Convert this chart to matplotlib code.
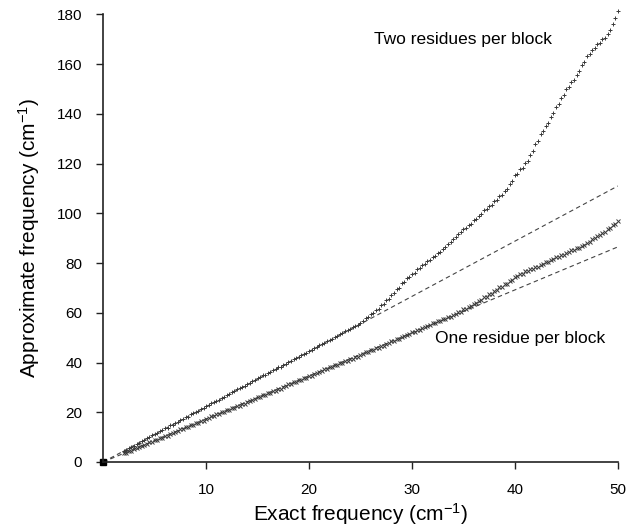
import numpy as np
import matplotlib
matplotlib.use('Agg')
from matplotlib import pyplot as plt

plt.rcParams['font.family'] = ['Liberation Sans', 'DejaVu Sans']
plt.rcParams['mathtext.fontset'] = 'custom'
plt.rcParams['mathtext.rm'] = 'Liberation Sans'
plt.rcParams['mathtext.it'] = 'Liberation Sans'

# exact frequencies (cm-1), one point every 0.25 from 2 to 50
x_exact = np.arange(2.0, 50.01, 0.25)

# two residues per block, approximate frequencies
two_res = [
    4.6, 4.9, 5.7, 6.0, 6.5, 7.4, 7.7, 8.5, 8.8, 9.6, 9.9, 10.7,
    11.3, 11.5, 12.4, 12.7, 13.6, 13.8, 14.7, 14.9, 15.8, 16.0,
    16.9, 17.1, 18.0, 18.2, 19.2, 19.5, 20.3, 20.6, 21.4, 21.8,
    22.5, 22.9, 23.6, 24.0, 24.7, 25.1, 25.8, 26.3, 26.9, 27.3,
    28.1, 28.4, 29.2, 29.6, 30.3, 30.6, 31.4, 31.8, 32.5, 32.9,
    33.6, 34.0, 34.8, 35.1, 35.8, 36.3, 36.8, 37.5, 38.0, 38.4,
    39.2, 39.6, 40.3, 40.6, 41.4, 41.8, 42.4, 42.9, 43.6, 44.0,
    44.6, 45.1, 45.8, 46.2, 46.9, 47.3, 48.0, 48.5, 49.1, 49.5,
    50.3, 50.7, 51.4, 51.8, 52.5, 53.0, 53.6, 54.1, 54.7, 55.2,
    56.0, 56.5, 57.9, 58.4, 59.6, 60.1, 61.3, 61.7, 63.1, 63.6,
    65.1, 65.7, 67.3, 67.8, 69.6, 70.1, 71.8, 72.3, 73.8, 74.3,
    75.8, 76.2, 77.6, 77.9, 79.3, 79.6, 80.9, 81.2, 82.5, 82.8,
    84.1, 84.5, 85.8, 86.3, 87.8, 88.3, 89.8, 90.3, 91.8, 92.3,
    93.8, 94.2, 95.5, 95.9, 97.3, 97.7, 99.1, 99.6, 101.3, 101.7,
    103.1, 103.4, 104.8, 105.3, 106.8, 107.3, 108.8, 109.8, 111.8, 113.0,
    115.3, 116.0, 117.8, 118.4, 120.3, 121.2, 123.3, 125.0, 127.8, 129.2,
    131.8, 133.0, 135.3, 136.4, 138.8, 140.2, 142.8, 144.0, 146.3, 147.6,
    150.0, 150.9, 152.9, 153.7, 155.8, 157.1, 159.5, 160.8, 163.3, 163.9,
    165.8, 166.5, 168.3, 168.7, 170.3, 170.7, 172.3, 173.7, 176.3, 178.7,
    181.5,
]

# one residue per block, approximate frequencies
one_res = [
    3.6, 3.8, 4.5, 4.6, 5.3, 5.5, 6.2, 6.3, 7.0, 7.2, 7.9, 8.0,
    8.7, 8.9, 9.7, 9.8, 10.5, 10.6, 11.4, 11.5, 12.2, 12.3,
    13.1, 13.2, 14.0, 14.1, 14.8, 14.9, 15.7, 15.8, 16.5, 16.6,
    17.4, 17.5, 18.3, 18.4, 19.1, 19.2, 20.0, 20.1, 20.8, 20.9,
    21.7, 21.8, 22.6, 22.7, 23.4, 23.5, 24.3, 24.4, 25.1, 25.2,
    26.0, 26.1, 26.9, 27.0, 27.7, 27.8, 28.6, 28.7, 29.4, 29.5,
    30.3, 30.4, 31.2, 31.3, 32.0, 32.1, 32.9, 33.0, 33.7, 33.8,
    34.6, 34.7, 35.5, 35.6, 36.3, 36.4, 37.2, 37.3, 38.0, 38.1,
    38.9, 39.0, 39.8, 39.9, 40.6, 40.7, 41.5, 41.6, 42.3, 42.4,
    43.2, 43.3, 44.1, 44.2, 44.9, 45.0, 45.8, 45.9, 46.7, 46.8,
    47.6, 47.7, 48.5, 48.7, 49.4, 49.6, 50.3, 50.5, 51.1, 51.3,
    52.2, 52.3, 53.1, 53.2, 54.0, 54.1, 54.8, 55.0, 55.7, 55.8,
    56.6, 56.7, 57.4, 57.6, 58.3, 58.5, 59.2, 59.4, 60.2, 60.4,
    61.4, 61.5, 62.4, 62.6, 63.6, 63.8, 64.8, 65.1, 66.2, 66.4,
    67.4, 67.6, 68.7, 69.0, 70.2, 70.4, 71.4, 71.6, 72.7, 73.1,
    74.4, 74.6, 75.7, 75.8, 76.7, 76.7, 77.6, 77.6, 78.4, 78.5,
    79.4, 79.5, 80.4, 80.5, 81.4, 81.5, 82.4, 82.4, 83.2, 83.3,
    84.2, 84.3, 85.1, 85.2, 86.0, 86.1, 86.9, 87.2, 88.2, 88.6,
    89.6, 90.0, 91.0, 91.4, 92.2, 92.4, 93.7, 94.2, 95.2, 95.9,
    96.8,
]

# dashed reference lines from the origin: value reached at x = 50
ref_x = [0, 50]
ref_upper = [0, 111]
ref_lower = [0, 86.5]

x_ticks = [10, 20, 30, 40, 50]
y_ticks = list(range(0, 181, 20))

fig = plt.figure(figsize=(6.33, 5.29), dpi=100)
ax = fig.add_axes([0.163, 0.1267, 0.813, 0.846])

ax.plot(ref_x, ref_upper, ls=(0, (4, 3)), color='#444444', lw=0.8)
ax.plot(ref_x, ref_lower, ls=(0, (4, 3)), color='#444444', lw=0.8)

ax.plot(x_exact, two_res, '+', color='#3a3a3a', ms=3.5, mew=0.7, clip_on=False)
ax.plot(x_exact, one_res, 'x', color='#3a3a3a', ms=3.5, mew=0.7, clip_on=False)
ax.plot([0], [0], 's', color='black', ms=4, clip_on=False)

ax.text(34.95, 169.8, 'Two residues per block', ha='center', va='center', fontsize=12.5)
ax.text(40.5, 49.5, 'One residue per block', ha='center', va='center', fontsize=12.5)

ax.set_xlim(0, 50)
ax.set_ylim(0, 180)
ax.set_xticks(x_ticks)
ax.set_yticks(y_ticks)
ax.tick_params(direction='out', length=5, width=1, labelsize=11, pad=10, color='#222222')
ax.spines['top'].set_visible(False)
ax.spines['right'].set_visible(False)
for s in ['left', 'bottom']:
    ax.spines[s].set_linewidth(1.2)
    ax.spines[s].set_color('#222222')

ax.set_xlabel(r'Exact frequency (cm$^{-1}$)', fontsize=15, labelpad=3)
ax.set_ylabel(r'Approximate frequency (cm$^{-1}$)', fontsize=15, labelpad=11)

fig.savefig('out.png', dpi=100)
